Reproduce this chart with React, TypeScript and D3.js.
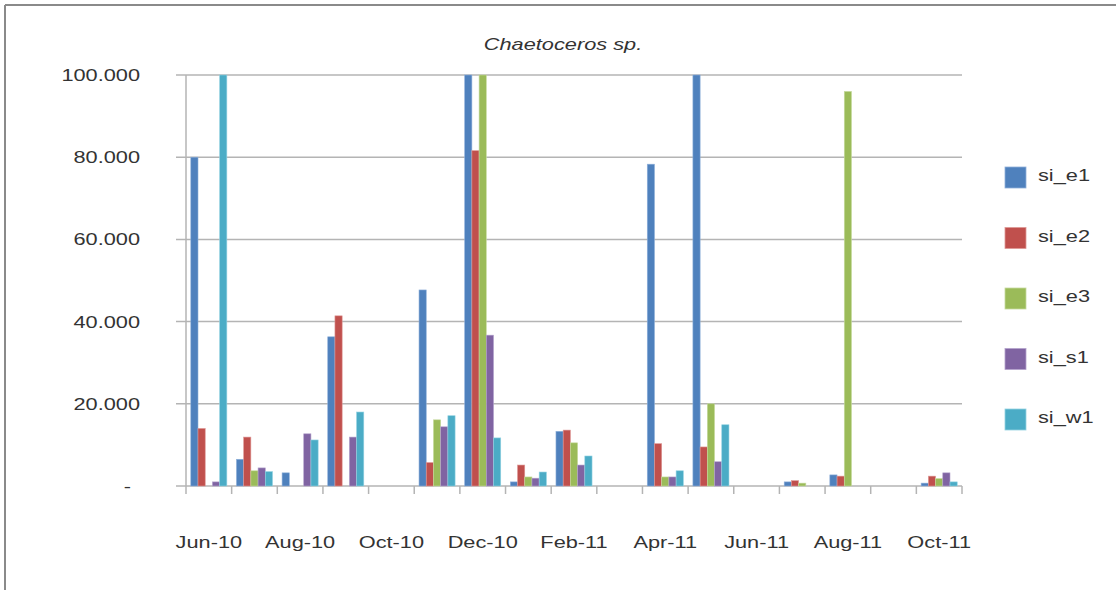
import React from "react";
import * as d3 from "d3";

const months = ["Jun-10","Jul-10","Aug-10","Sep-10","Oct-10","Nov-10","Dec-10","Jan-11","Feb-11","Mar-11","Apr-11","May-11","Jun-11","Jul-11","Aug-11","Sep-11","Oct-11"];
const tickLabels = ["Jun-10","Aug-10","Oct-10","Dec-10","Feb-11","Apr-11","Jun-11","Aug-11","Oct-11"];
const seriesNames = ["si_e1","si_e2","si_e3","si_s1","si_w1"];
const colors = ["#4F81BD","#C0504D","#9BBB59","#8064A2","#4BACC6"];
const strokes = ["#8FB0DA","#DE9896","#C6DA9E","#B3A2CC","#93D2E2"];

const si_e1 = [80, 6.5, 3.2, 36.3, 0, 47.7, 100, 1.0, 13.3, 0, 78.3, 100, 0, 1.0, 2.7, 0, 0.7];
const si_e2 = [14, 11.9, 0, 41.4, 0, 5.7, 81.6, 5.1, 13.6, 0, 10.3, 9.5, 0, 1.3, 2.4, 0, 2.4];
const si_e3 = [0, 3.7, 0, 0, 0, 16.1, 100, 2.2, 10.5, 0, 2.2, 20.0, 0, 0.7, 96.0, 0, 1.8];
const si_s1 = [1.0, 4.4, 12.7, 11.9, 0, 14.4, 36.7, 1.9, 5.1, 0, 2.2, 5.9, 0, 0, 0, 0, 3.2];
const si_w1 = [100, 3.5, 11.2, 18.0, 0, 17.1, 11.7, 3.4, 7.3, 0, 3.7, 14.9, 0, 0, 0, 0, 1.0];
const seriesValues = [si_e1, si_e2, si_e3, si_s1, si_w1];
const yTicks = [0, 20, 40, 60, 80, 100];
const title = "Chaetoceros sp.";

const FONT = "'Liberation Sans', Arial, sans-serif";
const SX = 1.28;

function T({ x, y, anchor = "start", italic = false, children }: any) {
  return (
    <g transform={`translate(${x},${y})`}>
      <text
        transform={`scale(${SX},1)`}
        textAnchor={anchor}
        fontFamily={FONT}
        fontSize={17}
        fontStyle={italic ? "italic" : "normal"}
        fill="#333"
      >
        {children}
      </text>
    </g>
  );
}

export default function App() {
  const left = 186, right = 962, top = 75, bottom = 486;
  const x0 = d3.scaleBand<string>().domain(months).range([left, right]).padding(0);
  const bw = x0.bandwidth();
  const gap = bw * 0.105;
  const x1 = d3.scaleBand<string>().domain(seriesNames).range([gap, bw - gap]).padding(0);
  const y = d3.scaleLinear().domain([0, 100]).range([bottom, top]);
  const fmt = (v: number) => (v === 0 ? "-" : v.toFixed(0) + ".000");

  return (
    <svg width={1116} height={590} style={{ position: "absolute", left: 0, top: 0, background: "#fff" }}>
      <rect x={0} y={0} width={1116} height={590} fill="#fff" />
      <line x1={5} y1={5} x2={1116} y2={5} stroke="#8a8a8a" strokeWidth={2} />
      <line x1={5} y1={5} x2={5} y2={590} stroke="#8a8a8a" strokeWidth={2} />
      <T x={563} y={50} anchor="middle" italic>{title}</T>
      {yTicks.map((t) => (
        <g key={t}>
          <line x1={176} x2={right} y1={y(t)} y2={y(t)} stroke="#b4b4b4" strokeWidth={1.5} />
          <T x={t === 0 ? 131 : 140} y={y(t) + 6} anchor="end">{fmt(t)}</T>
        </g>
      ))}
      <line x1={left} x2={left} y1={top} y2={bottom + 8} stroke="#b4b4b4" strokeWidth={1.5} />
      {months.map((m) => (
        <line key={m} x1={(x0(m) as number) + bw} x2={(x0(m) as number) + bw} y1={bottom} y2={bottom + 8} stroke="#b4b4b4" strokeWidth={1.5} />
      ))}
      {months.map((m, i) => (
        <g key={m} transform={`translate(${x0(m)},0)`}>
          {seriesNames.map((s, j) => {
            const v = seriesValues[j][i];
            if (!v) return null;
            return (
              <rect
                key={s}
                x={x1(s) as number}
                y={y(v)}
                width={x1.bandwidth()}
                height={bottom - y(v)}
                fill={colors[j]}
                stroke={strokes[j]}
                strokeWidth={0.6}
              />
            );
          })}
        </g>
      ))}
      {tickLabels.map((l) => (
        <T key={l} x={(x0(l) as number) + bw / 2} y={548} anchor="middle">{l}</T>
      ))}
      {seriesNames.map((s, j) => (
        <g key={s} transform={`translate(1005,${167 + j * 60.5})`}>
          <rect x={0} y={0} width={21} height={21} fill={colors[j]} stroke={strokes[j]} strokeWidth={0.8} />
          <T x={33} y={14}>{s}</T>
        </g>
      ))}
    </svg>
  );
}
